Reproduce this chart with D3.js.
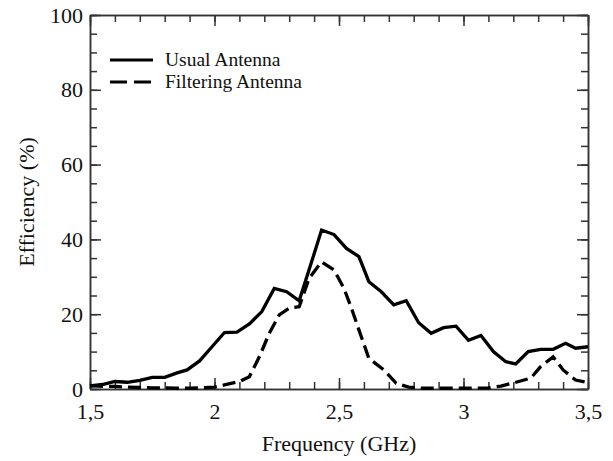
<!DOCTYPE html>
<html lang="en">
<head>
<meta charset="utf-8">
<title>Efficiency vs frequency</title>
<style>
  body { margin: 0; background: #fff; }
  svg text { font-family: "Liberation Serif", "Times New Roman", serif !important; fill: #111; }
  .axis path, .axis line { stroke: #333; stroke-width: 1.5; }
  .curve { fill: none; stroke: #000; stroke-width: 3.3; stroke-linejoin: miter; }
</style>
</head>
<body>
<svg id="chart" width="613" height="461"></svg>
<script src="https://d3js.org/d3.v7.min.js"></script>
<script>
// values
const usualFreq = [1.50, 1.55, 1.60, 1.65, 1.70, 1.75, 1.80, 1.85, 1.89, 1.94, 1.99, 2.04, 2.09, 2.14,
  2.19, 2.24, 2.29, 2.34, 2.39, 2.43, 2.48, 2.53, 2.58, 2.62, 2.67, 2.72, 2.77, 2.82, 2.87, 2.92,
  2.97, 3.02, 3.07, 3.12, 3.17, 3.21, 3.26, 3.31, 3.36, 3.41, 3.45, 3.50];
const usualEff = [0.8, 1.2, 2.0, 1.8, 2.3, 3.1, 3.1, 4.3, 5.1, 7.5, 11.3, 15.1, 15.2, 17.4,
  20.7, 26.9, 26.0, 23.6, 34.0, 42.5, 41.3, 37.6, 35.4, 28.7, 26.0, 22.5, 23.6, 17.7, 14.9, 16.4,
  16.8, 13.0, 14.3, 10.0, 7.3, 6.7, 10.0, 10.6, 10.6, 12.2, 10.9, 11.3];

const filterFreq = [1.50, 1.55, 1.60, 1.65, 1.70, 1.75, 1.80, 1.85, 1.90, 1.95, 2.00, 2.04, 2.10, 2.14,
  2.18, 2.22, 2.26, 2.30, 2.34, 2.38, 2.43, 2.48, 2.52, 2.55, 2.58, 2.62, 2.68, 2.73, 2.78, 2.83,
  2.90, 3.00, 3.10, 3.15, 3.20, 3.27, 3.31, 3.36, 3.40, 3.45, 3.50];
const filterEff = [0.9, 0.7, 0.7, 0.5, 0.4, 0.3, 0.3, 0.2, 0.2, 0.3, 0.5, 1.1, 2.0, 3.3,
  8.6, 14.9, 19.8, 21.6, 22.0, 29.6, 34.0, 31.8, 26.9, 21.6, 15.8, 8.2, 5.1, 1.5, 0.5, 0.2,
  0.2, 0.2, 0.3, 0.8, 1.6, 2.9, 6.0, 8.6, 5.1, 2.4, 1.7];

const xMajor = [1.5, 2, 2.5, 3, 3.5];
const yMajor = [0, 20, 40, 60, 80, 100];
const seriesNames = ['Usual Antenna', 'Filtering Antenna'];

const margin = {top: 15, right: 25, bottom: 72, left: 90};
const W = 613, H = 461;
const w = W - margin.left - margin.right;
const h = H - margin.top - margin.bottom;

const svg = d3.select('#chart');
const g = svg.append('g').attr('transform', `translate(${margin.left},${margin.top})`);

const x = d3.scaleLinear().domain([1.5, 3.5]).range([0, w]);
const y = d3.scaleLinear().domain([0, 100]).range([h, 0]);

const xMinor = d3.range(15, 36).map(d => d / 10);
const yMinor = d3.range(0, 101, 5);
const comma = d => String(d).replace('.', ',');

// minor ticks on all four sides, pointing in
g.append('g').attr('class', 'axis').attr('transform', `translate(0,${h})`)
  .call(d3.axisBottom(x).tickValues(xMinor).tickSize(-7).tickSizeOuter(0).tickFormat(''));
g.append('g').attr('class', 'axis')
  .call(d3.axisTop(x).tickValues(xMinor).tickSize(-7).tickSizeOuter(0).tickFormat(''));
g.append('g').attr('class', 'axis')
  .call(d3.axisLeft(y).tickValues(yMinor).tickSize(-7).tickSizeOuter(0).tickFormat(''));
g.append('g').attr('class', 'axis').attr('transform', `translate(${w},0)`)
  .call(d3.axisRight(y).tickValues(yMinor).tickSize(-7).tickSizeOuter(0).tickFormat(''));

// major ticks with labels
g.append('g').attr('class', 'axis').attr('transform', `translate(0,${h})`)
  .call(d3.axisBottom(x).tickValues(xMajor).tickSize(-11).tickSizeOuter(0).tickPadding(14).tickFormat(comma));
g.append('g').attr('class', 'axis')
  .call(d3.axisLeft(y).tickValues(yMajor).tickSize(-11).tickSizeOuter(0).tickPadding(7));
g.append('g').attr('class', 'axis')
  .call(d3.axisTop(x).tickValues(xMajor).tickSize(-11).tickSizeOuter(0).tickFormat(''));
g.append('g').attr('class', 'axis').attr('transform', `translate(${w},0)`)
  .call(d3.axisRight(y).tickValues(yMajor).tickSize(-11).tickSizeOuter(0).tickFormat(''));

g.selectAll('.axis').attr('font-family', null);
g.selectAll('.axis text').style('font-size', '22px').attr('fill', '#111');

// curves
const line = d3.line().x(d => x(d[0])).y(d => y(d[1]));
const usual = usualFreq.map((f, i) => [f, usualEff[i]]);
const filtering = filterFreq.map((f, i) => [f, filterEff[i]]);

g.append('path').datum(usual).attr('class', 'curve').attr('d', line);
g.append('path').datum(filtering).attr('class', 'curve')
  .attr('stroke-dasharray', '13,6').attr('d', line);

// axis titles
svg.append('text')
  .attr('x', margin.left + w / 2).attr('y', 451)
  .attr('text-anchor', 'middle').style('font-size', '22px')
  .text('Frequency (GHz)');
svg.append('text')
  .attr('transform', `translate(34,${margin.top + h / 2}) rotate(-90)`)
  .attr('text-anchor', 'middle').style('font-size', '22px')
  .text('Efficiency (%)');

// legend
const legend = svg.append('g');
seriesNames.forEach((name, i) => {
  const ly = 60 + i * 22;
  legend.append('line')
    .attr('x1', 110).attr('x2', 153).attr('y1', ly).attr('y2', ly)
    .attr('stroke', '#000').attr('stroke-width', 3)
    .attr('stroke-dasharray', i === 1 ? '17,7' : null);
  legend.append('text')
    .attr('x', 165).attr('y', ly + 5.5)
    .style('font-size', '19.5px')
    .text(name);
});
</script>
</body>
</html>
